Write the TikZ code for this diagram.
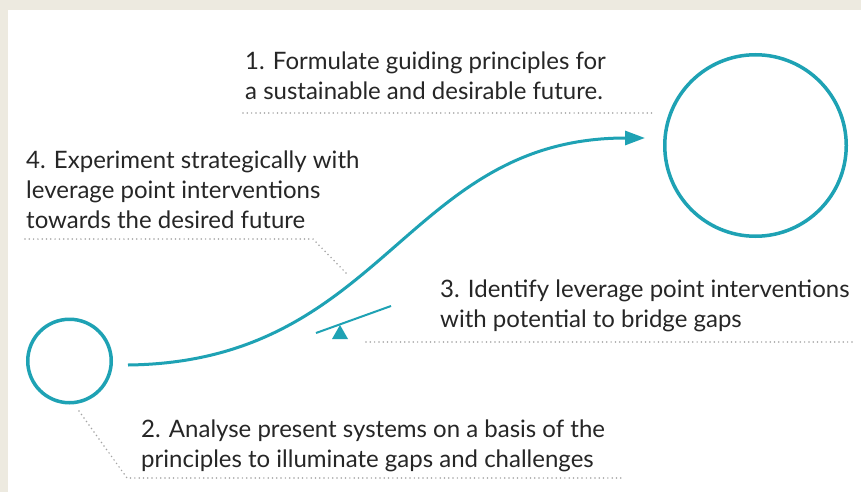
\documentclass[tikz,border=0pt]{standalone}
\usepackage{fontspec}
\setmainfont{Lato}
\usetikzlibrary{arrows.meta}
\tikzset{>={Triangle[width=14pt,length=20pt]}}
\definecolor{petrol}{HTML}{1EA2B4}
\definecolor{beige}{HTML}{EDEAE0}
\definecolor{ink}{HTML}{262626}
\definecolor{dotgray}{HTML}{A3A3A3}
\tikzset{
  ring/.style={circle, draw=petrol, line width=3.5pt, inner sep=0pt},
  steptext/.style={anchor=base west, align=left, text=ink, inner sep=0pt,
    font=\fontsize{24}{30}\selectfont},
  leader/.style={draw=dotgray, line width=1.7pt, line cap=round,
    dash pattern=on 0pt off 4.3pt},
}

\begin{document}
\begin{tikzpicture}[x=1pt,y=-1pt]

\fill[beige] (0,0) rectangle (861,492); %% frame
\fill[white] (8,10) rectangle (861,492);
\useasboundingbox (0,0) rectangle (861,492);

%% present and future
\node[ring, minimum size=83.5pt] (now) at (69.5,361) {};
\node[ring, minimum size=181.5pt] (future) at (755.5,145.5) {};

\coordinate (start) at (128,365);
\coordinate (tip) at (645,138);
\draw[->, petrol, line width=3pt]
(start) .. controls (385,362) and (405,138) .. (tip);

%% lever
\draw[petrol, line width=2pt] (316,333) -- (391,306);
\fill[petrol] (340,325) -- (348,339) -- (332,339) -- cycle;

%% steps (anchored on the last line)
\node[steptext] (principles) at (245,100)
{1. Formulate guiding principles for\\a sustainable and desirable future.};
\node[steptext] (analyse) at (141,467)
{2. Analyse present systems on a basis of the\\principles to illuminate gaps and challenges};
\node[steptext] (identify) at (440,327)
{3. Identify leverage point interventions\\with potential to bridge gaps};
\node[steptext] (experiment) at (26,228)
{4. Experiment strategically with\\leverage point interventions\\towards the desired future};

%% dotted leaders
\coordinate (p1) at (243,113);
\coordinate (p2) at (652,113);
\draw[leader] (p1) -- (p2);

\coordinate (a1) at (79,411);
\coordinate (a2) at (127,478);
\coordinate (a3) at (622,478);
\draw[leader] (a1) -- (a2) -- (a3);

\coordinate (i1) at (366,342);
\coordinate (i2) at (853,342);
\draw[leader] (i1) -- (i2);

\coordinate (e1) at (25,239);
\coordinate (e2) at (313,239);
\coordinate (e3) at (348,275);
\draw[leader] (e1) -- (e2) -- (e3);

\end{tikzpicture}
\end{document}
